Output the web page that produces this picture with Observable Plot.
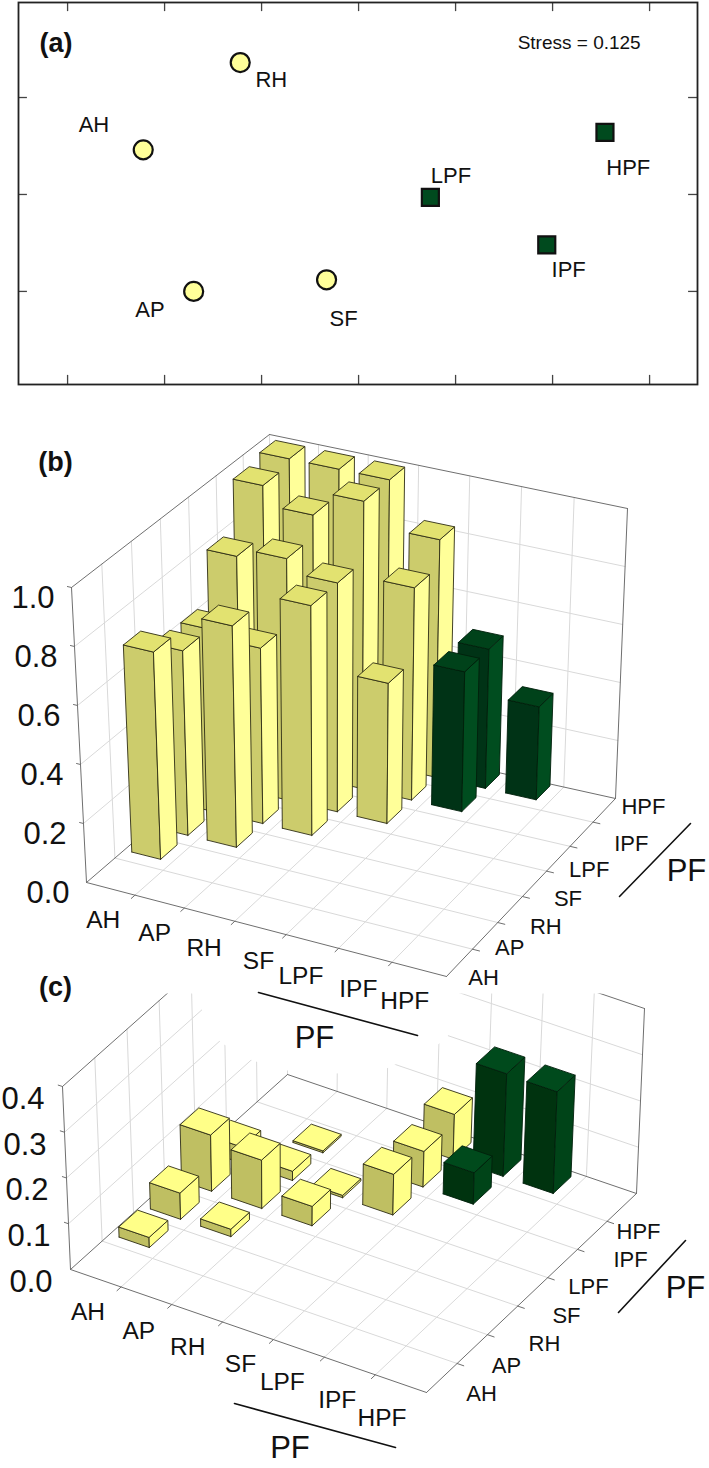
<!DOCTYPE html>
<html>
<head>
<meta charset="utf-8">
<style>
html,body{margin:0;padding:0;background:#fff;}
svg{display:block;}
</style>
<script src="https://cdn.jsdelivr.net/npm/d3@7"></script>
<script src="https://cdn.jsdelivr.net/npm/@observablehq/plot@0.6"></script>
</head>
<body>
<div id="chart"></div>
<script>
// ---------- data ----------
const plantTypes = ["AH","AP","RH","SF","LPF","IPF","HPF"];

// (a) NMDS ordination
const mdsX = [-1.11,-0.85,-0.61,-0.165,0.37,0.97,1.27];
const mdsY = [0.23,-0.50,0.68,-0.44,-0.015,-0.26,0.32];
const mdsLabelX = [-1.364,-1.075,-0.45,-0.077,0.476,1.083,1.39];
const mdsLabelY = [0.361,-0.593,0.593,-0.644,0.098,-0.387,0.139];
const mdsForest = [false,false,false,false,true,true,true];
const mdsTicksX = [-1.5,-1,-0.5,0,0.5,1,1.5];
const mdsTicksY = [-0.5,0,0.5];
const stressText = "Stress = 0.125";

// (b) lower triangle: rows AP..HPF, columns from AH
const valuesB = [
  [0.705],
  [0.63,0.755],
  [0.625,0.60,0.785],
  [0.80,0.83,0.785,0.48],
  [0.97,0.905,0.99,0.73,0.48],
  [0.99,0.99,0.99,0.82,0.48,0.32]
];
// (c) lower triangle, null = no bar
const valuesC = [
  [0.022],
  [0.057,0.016],
  [0.122,0.105,0.042],
  [0.035,0.02,0.005,0.088],
  [null,0.004,null,0.077,0.068],
  [null,null,null,0.097,0.222,0.22]
];
const zTicksB = [0,0.2,0.4,0.6,0.8,1.0];
const zTicksC = [0,0.1,0.2,0.3,0.4];

// ---------- panel cameras (where the box's corners fall on the page) ----------
const camB = {
  A:[86,882],B:[446,976],C:[615,798],D:[272,722],
  At:[71,587],Bt:[450,676],Ct:[627,508],Dt:[269,434],
  zMax:1, zTicks:zTicksB, offU:0.16, offV:0.33, values:valuesB,
  tag:"(b)", tagOff:[-16,-125],
  zLabelOff:[-17,11],
  bottomOff:[[-9,31],[-9,31],[-11,32],[-8,32],[-17,33],[-11,33],[-16,31]],
  rightOff:[[25,14],[27,10],[39,14],[37,11],[34,8],[52,7],[40,-4]],
  ruleBottom:[[0.5,-8,63],[1,-29,59]], ruleRight:[[0.5,88.5,9],[1,75,25]],
  pfBottom:[48,109], pfRight:[155.5,-16],
  faces:{yl:["#cccc6c","#ffff99","#e2e270"],gr:["#003316","#004d1f","#00421a"]}
};
const camC = {
  A:[70,1269],B:[426,1392],C:[636,1193],D:[287,1074],
  At:[62,1086],Bt:[429,1204],Ct:[644,1008],Dt:[286,887],
  zMax:0.4, zTicks:zTicksC, offU:0.18, offV:0.25, values:valuesC,
  tag:"(c)", tagOff:[-7,-99],
  zLabelOff:[-18,12.5],
  bottomOff:[[-8,34],[-8,35],[-10,34],[-8,33],[-17,34],[-13,34],[-19,34]],
  rightOff:[[40,16],[35,16],[43,23],[35,23],[27,22],[39,24],[17,24]],
  ruleBottom:[[0.5,-14,72.5],[1,-31,55]], ruleRight:[[0.5,87,19.5],[1,49,47]],
  pfBottom:[41.5,117.5], pfRight:[154,-4.5],
  faces:{yl:["#bfbf62","#ffff88","#ffff88"],gr:["#00330f","#004418","#004a1c"]}
};
// part of (c)'s walls that is hidden behind (b)'s axis titles
const maskC = [[0,993],[192,993],[202,1010],[220,1042],[252,1060],[287,1070],[336,1073],[386,1068],[436,1045],[447,1037],[457,993],[709,993],[709,395],[0,395]];

// ---------- projection ----------
function homography([x0,y0],[x1,y1],[x2,y2],[x3,y3]){
  const dx1=x1-x2,dx2=x3-x2,sx=x0-x1+x2-x3,dy1=y1-y2,dy2=y3-y2,sy=y0-y1+y2-y3;
  const den=dx1*dy2-dx2*dy1,g=(sx*dy2-dx2*sy)/den,h=(dx1*sy-sx*dy1)/den;
  const a=x1-x0+g*x1,b=x3-x0+h*x3,c=x0,d=y1-y0+g*y1,e=y3-y0+h*y3,f=y0;
  return (u,v)=>{const w=g*u+h*v+1;return [(a*u+b*v+c)/w,(d*u+e*v+f)/w];};
}
function projector(cam){
  const floor=homography(cam.A,cam.B,cam.C,cam.D), roof=homography(cam.At,cam.Bt,cam.Ct,cam.Dt);
  return (cu,cv,z=0)=>{ // cu,cv in cell units (0..7)
    const p=floor(cu/7,cv/7),q=roof(cu/7,cv/7),t=z/cam.zMax;
    return {x:p[0]+(q[0]-p[0])*t,y:p[1]+(q[1]-p[1])*t};
  };
}
const along=(P,Q,t,dx=0,dy=0)=>({x:P[0]+(Q[0]-P[0])*t+dx,y:P[1]+(Q[1]-P[1])*t+dy});

function gridLines(cam,P){
  const out=[];let id=0;
  const seg=(a,b)=>{id++;out.push({...a,id},{...b,id});};
  const n=plantTypes.length,zm=cam.zMax;
  for(let k=1;k<n;k++){
    seg(P(k,0),P(k,n));seg(P(0,k),P(n,k));      // floor
    seg(P(0,k),P(0,k,zm));seg(P(k,n),P(k,n,zm)); // walls
  }
  cam.zTicks.slice(1,-1).forEach(z=>{seg(P(0,0,z),P(0,n,z));seg(P(0,n,z),P(n,n,z));});
  seg(P(0,n),P(0,n,zm));
  return out;
}
function edgeLines(cam,P){
  const out=[];let id=0;
  const seg=(a,b)=>{id++;out.push({...a,id},{...b,id});};
  const n=plantTypes.length,zm=cam.zMax;
  seg(P(0,0),P(n,0));seg(P(n,0),P(n,n));seg(P(0,0),P(0,n));seg(P(0,n),P(n,n));
  seg(P(0,0),P(0,0,zm));seg(P(n,n),P(n,n,zm));seg(P(0,0,zm),P(0,n,zm));seg(P(0,n,zm),P(n,n,zm));
  for(let k=1;k<n;k++){seg(P(k,0),P(k,-0.13));seg(P(n,k),P(n+0.13,k));}
  cam.zTicks.slice(1).forEach(z=>seg(P(0,0,z),P(-0.08,0,z)));
  return out;
}
function barFaces(cam,P){
  const out=[];let id=0;const w=0.6;
  for(let r=cam.values.length-1;r>=0;r--){
    const row=cam.values[r];
    row.forEach((val,col)=>{
      if(val==null)return;
      const u0=col+cam.offU,u1=u0+w,v0=r+1+cam.offV,v1=v0+w;
      const green=col>=4,[fL,fR,fT]=green?cam.faces.gr:cam.faces.yl,edge=green?"#001f0b":"#2e2d14";
      const face=(pts,fill)=>{id++;[...pts,pts[0]].forEach(p=>out.push({...p,id,fill,edge}));};
      face([P(u0,v0,0),P(u1,v0,0),P(u1,v0,val),P(u0,v0,val)],fL);
      face([P(u1,v0,0),P(u1,v1,0),P(u1,v1,val),P(u1,v0,val)],fR);
      face([P(u0,v0,val),P(u1,v0,val),P(u1,v1,val),P(u0,v1,val)],fT);
    });
  }
  return out;
}
const FONT="Liberation Sans";
function textMarks(cam,P){
  const n=plantTypes.length;
  const zLab=cam.zTicks.map(z=>{const p=P(0,0,z);return {x:p.x+cam.zLabelOff[0],y:p.y+cam.zLabelOff[1],t:z.toFixed(1)};});
  const bot=plantTypes.map((t,i)=>({...along(cam.A,cam.B,(i+.5)/n,...cam.bottomOff[i]),t}));
  const rig=plantTypes.map((t,i)=>({...along(cam.B,cam.C,(i+.5)/n,...cam.rightOff[i]),t}));
  const pf=[along(cam.A,cam.B,.5,...cam.pfBottom),along(cam.B,cam.C,.5,...cam.pfRight)].map(p=>({...p,t:"PF"}));
  const tag=[{x:cam.At[0]+cam.tagOff[0],y:cam.At[1]+cam.tagOff[1],t:cam.tag}];
  const ruleB=cam.ruleBottom.map(([t,a,b])=>({...along(cam.A,cam.B,t,a,b)}));
  const ruleR=cam.ruleRight.map(([t,a,b])=>({...along(cam.B,cam.C,t,a,b)}));
  const T={x:"x",y:"y",text:"t",fontFamily:FONT,fill:"#111",stroke:null};
  return [
    Plot.line(ruleB,{x:"x",y:"y",stroke:"#111",strokeWidth:1.6}),
    Plot.line(ruleR,{x:"x",y:"y",stroke:"#111",strokeWidth:1.6}),
    Plot.text(zLab,{...T,textAnchor:"end",fontSize:31}),
    Plot.text(bot,{...T,fontSize:24.5}),
    Plot.text(rig,{...T,fontSize:22}),
    Plot.text(pf,{...T,fontSize:31}),
    Plot.text(tag,{...T,fontSize:27,fontWeight:"bold"})
  ];
}
function panelMarks(cam,P){
  return {
    walls:[
      Plot.line(gridLines(cam,P),{x:"x",y:"y",z:"id",stroke:"#d9d9d9",strokeWidth:1}),
      Plot.line(edgeLines(cam,P),{x:"x",y:"y",z:"id",stroke:"#6f6f6f",strokeWidth:1})
    ],
    bars:[Plot.line(barFaces(cam,P),{x:"x",y:"y",z:"id",fill:"fill",stroke:"edge",strokeWidth:0.9,strokeLinejoin:"round"})],
    texts:textMarks(cam,P)
  };
}

// ---------- (a) ----------
const mds = plantTypes.map((t,i)=>({t,x:mdsX[i],y:mdsY[i],lx:mdsLabelX[i],ly:mdsLabelY[i],forest:mdsForest[i]}));
const xDom=[-1.753,1.747],yDom=[-0.98,0.99];
const tx=0.046,ty=0.047;
const T0={fontFamily:FONT,fill:"#111",stroke:null};
const plotA = Plot.plot({
  width:709,height:395,marginLeft:18,marginRight:12,marginTop:2,marginBottom:11,
  x:{domain:xDom,axis:null},y:{domain:yDom,axis:null},
  style:{background:"transparent"},
  marks:[
    Plot.ruleX(mdsTicksX,{x:d=>d,y1:yDom[0],y2:yDom[0]+ty,stroke:"#444",strokeWidth:1.3}),
    Plot.ruleX(mdsTicksX,{x:d=>d,y1:yDom[1],y2:yDom[1]-ty,stroke:"#444",strokeWidth:1.3}),
    Plot.ruleY(mdsTicksY,{y:d=>d,x1:xDom[0],x2:xDom[0]+tx,stroke:"#444",strokeWidth:1.3}),
    Plot.ruleY(mdsTicksY,{y:d=>d,x1:xDom[1],x2:xDom[1]-tx,stroke:"#444",strokeWidth:1.3}),
    Plot.frame({stroke:"#222",strokeWidth:1.8}),
    Plot.dot(mds.filter(d=>!d.forest),{x:"x",y:"y",r:9.5,fill:"#ffff99",stroke:"#111",strokeWidth:2.2}),
    Plot.dot(mds.filter(d=>d.forest),{x:"x",y:"y",r:9.6,symbol:"square",fill:"#004a1e",stroke:"#111",strokeWidth:2.2}),
    Plot.text(mds,{x:"lx",y:"ly",text:"t",fontSize:22,...T0}),
    Plot.text([stressText],{x:()=>1.137,y:()=>0.78,text:d=>d,fontSize:19,...T0}),
    Plot.text(["(a)"],{x:()=>-1.56,y:()=>0.78,text:d=>d,fontSize:27,fontWeight:"bold",...T0})
  ]
});

// ---------- (b) and (c): one drawing, page-pixel scales ----------
const PB=projector(camB),PC=projector(camC);
const mb=panelMarks(camB,PB),mc=panelMarks(camC,PC);
const plotBC = Plot.plot({
  width:709,height:1073,margin:0,
  x:{domain:[0,709],range:[0,709],axis:null},
  y:{domain:[395,1468],range:[0,1073],axis:null},
  color:{type:"identity"},
  style:{background:"transparent"},
  marks:[
    ...mc.walls,
    Plot.line(maskC,{x:d=>d[0],y:d=>d[1],fill:"white",stroke:"none"}),
    ...mc.bars,
    ...mc.texts,
    ...mb.walls,
    ...mb.bars,
    ...mb.texts
  ]
});
const root=document.getElementById("chart");
root.append(plotA,plotBC);
</script>
</body>
</html>
